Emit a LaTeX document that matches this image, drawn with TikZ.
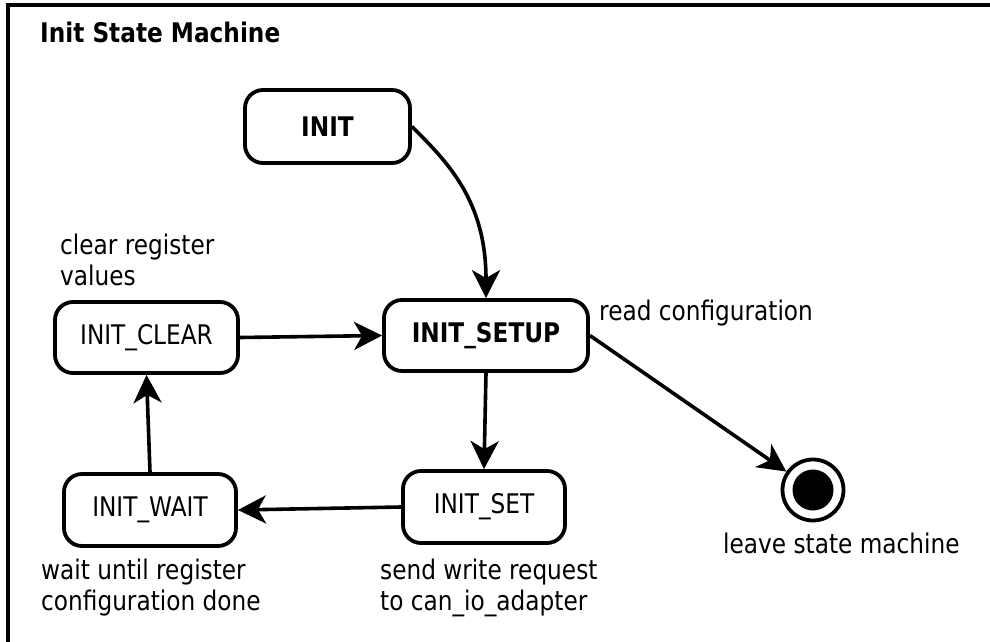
\documentclass[tikz,border=0pt]{standalone}
\usepackage{fontspec}
\setmainfont{DejaVu Sans}[FakeStretch=0.86]
\usetikzlibrary{arrows.meta}

\tikzset{
  txt/.style={font=\fontsize{27}{31}\selectfont},
  boldtxt/.style={font=\fontsize{27}{31}\selectfont\bfseries},
  state/.style={draw, line width=3.8pt, rounded corners=18pt, inner sep=0pt, txt},
  note/.style={inner sep=0pt, anchor=base west, align=left, txt},
  trans/.style={line width=3.6pt, -{Stealth[length=28pt, width=28pt, inset=8pt]}},
}

\begin{document}
\begin{tikzpicture}[x=1pt, y=-1pt]
  \useasboundingbox (0,0) rectangle (990,642);
  \fill[white] (0,0) rectangle (990,642);
  \begin{scope}
    \clip (0,0) rectangle (990,642);
    \draw[line width=4.5pt] (8,5) rectangle (1100,800);
  \end{scope}

  % title
  \node[note, boldtxt] (title) at (40,43) {Init State Machine};

  % states
  \node[state, boldtxt, minimum width=165pt, minimum height=73pt] (init) at (327.5,126.5) {INIT};
  \node[state, boldtxt, minimum width=204pt, minimum height=71pt] (setup) at (486,335.5) {INIT\_SETUP};
  \node[state, minimum width=183pt, minimum height=71pt] (clear) at (146.5,337.5) {INIT\_CLEAR};
  \node[state, minimum width=172pt, minimum height=72pt] (wait) at (150,510) {INIT\_WAIT};
  \node[state, minimum width=162pt, minimum height=72pt] (set) at (484,507) {INIT\_SET};

  % final state
  \node[circle, draw, line width=3.8pt, minimum size=61pt, inner sep=0pt] (final) at (813,490) {};
  \fill (final.center) circle[radius=20.5pt];

  % transitions
  \draw[trans] (init.east) .. controls +(35,35) and +(0,-98) .. (setup.north);
  \draw[trans] (clear.east) -- (setup.west);
  \draw[trans] (setup.south) -- (set.north);
  \draw[trans] (set.west) -- (wait.east);
  \draw[trans] (wait.north) -- (clear.south);
  \draw[trans] (setup.east) -- (final);

  % annotations (anchored on the baseline of the last line)
  \node[note] (clearnote) at (60,285) {clear register\\values};
  \node[note] (setupnote) at (599,320) {read configuration};
  \node[note] (waitnote) at (41,610) {wait until register\\configuration done};
  \node[note] (setnote) at (380,610) {send write request\\to can\_io\_adapter};
  \node[note] (finalnote) at (723,553) {leave state machine};
\end{tikzpicture}
\end{document}
